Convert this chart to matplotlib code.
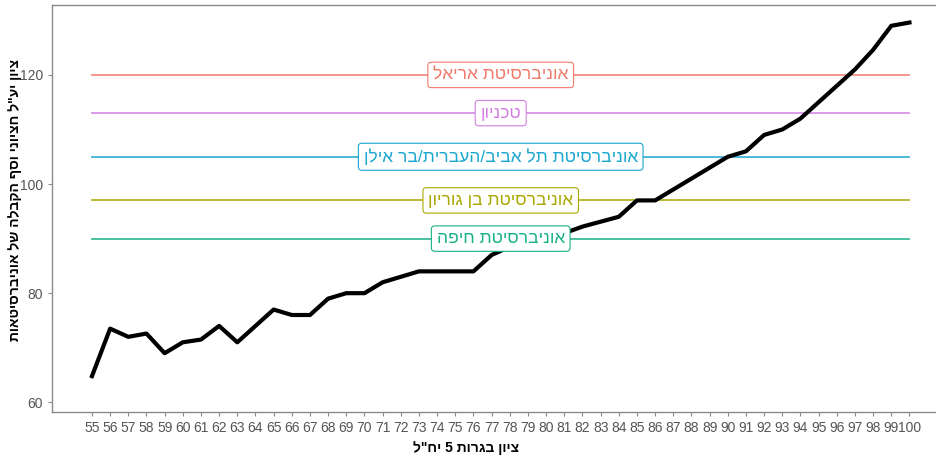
import numpy as np
import matplotlib.pyplot as plt

# x: ציון בגרות 5 יח"ל, y: ציון חציוני
scores = list(range(55, 101))
median_score = [64.8, 73.5, 72, 72.6, 69, 71, 71.5, 74, 71, 74,
                77, 76, 76, 79, 80, 80, 82, 83, 84, 84,
                84, 84, 87, 88.5, 89.5, 90.3, 91, 92.2, 93.1, 94,
                97, 97, 99, 101, 103, 105, 106, 109, 110, 112,
                115, 118, 121, 124.6, 129, 129.6]

uni_names = ["אוניברסיטת אריאל", "טכניון", "אוניברסיטת תל אביב/העברית/בר אילן",
             "אוניברסיטת בן גוריון", "אוניברסיטת חיפה"]
uni_threshold = [120, 113, 105, 97, 90]
uni_colors = ["#F07A6A", "#D27FE0", "#1AA7D0", "#A8A800", "#19B088"]

xlabel = 'ציון בגרות 5 יח"ל'
ylabel = 'ציון יע"ל חציוני וסף הקבלה של אוניברסיטאות'

fam = ["Liberation Sans", "DejaVu Sans"]


def rtl(s):
    # matplotlib has no bidi support, so flip the Hebrew text by hand
    return s[::-1]


fig = plt.figure(figsize=(9.37, 4.61), dpi=100)
ax = fig.add_axes([0.0555, 0.106, 0.95, 0.883])

for name, thr, col in zip(uni_names, uni_threshold, uni_colors):
    ax.plot([scores[0], scores[-1]], [thr, thr], color=col, lw=1.3, alpha=0.85, zorder=1)
    ax.text((scores[0] + scores[-1]) / 2, thr, rtl(name), color=col, fontsize=12.5,
            family=fam, ha="center", va="center", zorder=4,
            bbox=dict(boxstyle="round,pad=0.3,rounding_size=0.2", fc="white", ec=col, lw=0.8))

ax.plot(scores, median_score, color="black", lw=3, zorder=3)

ax.set_xlim(52.8, 101.8)
ax.set_ylim(58.2, 132.8)
ax.set_xticks(scores)
ax.set_xticklabels([str(s) for s in scores])
ax.set_yticks([60, 80, 100, 120])

for side in ["left", "bottom", "top"]:
    ax.spines[side].set_color("#8a8a8a")
    ax.spines[side].set_linewidth(1.0)
ax.spines["right"].set_visible(False)
ax.tick_params(colors="#8a8a8a", labelcolor="#555555", length=3, labelsize=10)
for lab in ax.get_xticklabels() + ax.get_yticklabels():
    lab.set_family(fam)

fig.text(0.497, 0.028, rtl(xlabel), fontsize=10, fontweight="bold", family=fam,
         ha="center", va="center")
fig.text(0.016, 0.566, rtl(ylabel), fontsize=10, fontweight="bold", family=fam,
         ha="center", va="center", rotation=90)

fig.savefig("out.png", dpi=100)
